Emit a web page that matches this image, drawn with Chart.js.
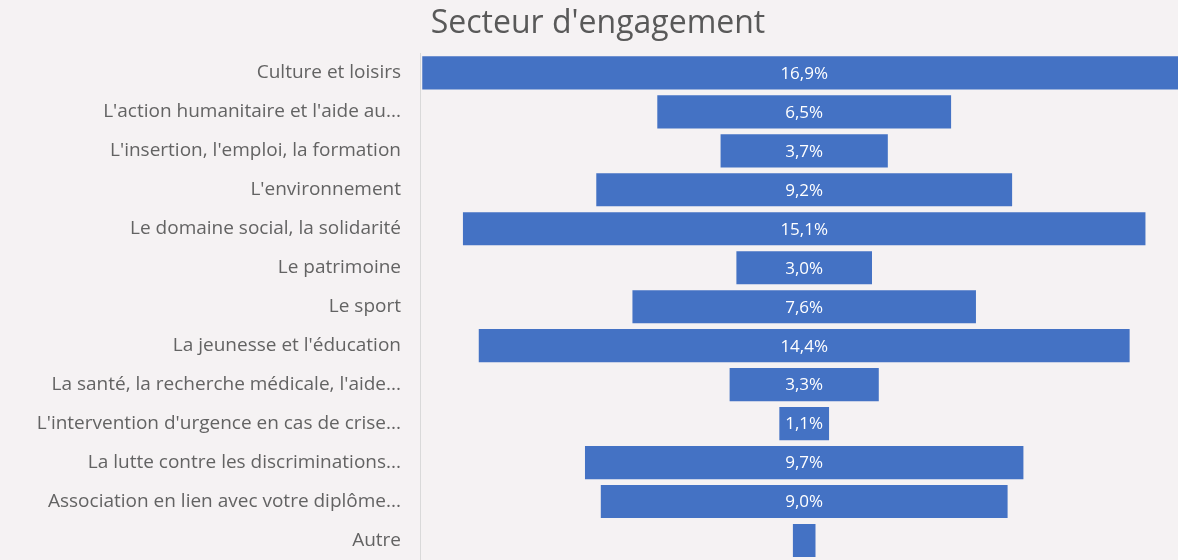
<!DOCTYPE html>
<html>
<head>
<meta charset="utf-8">
<script src="https://cdn.jsdelivr.net/npm/chart.js@4"></script>
<style>
  html, body { margin: 0; padding: 0; background: #f5f2f3; }
  #wrap { width: 1178px; height: 560px; }
</style>
</head>
<body>
<div id="wrap"><canvas id="c"></canvas></div>
<script>
const chartTitle = "Secteur d'engagement";
const categories = [
  "Culture et loisirs",
  "L'action humanitaire et l'aide au...",
  "L'insertion, l'emploi, la formation",
  "L'environnement",
  "Le domaine social, la solidarité",
  "Le patrimoine",
  "Le sport",
  "La jeunesse et l'éducation",
  "La santé, la recherche médicale, l'aide...",
  "L'intervention d'urgence en cas de crise...",
  "La lutte contre les discriminations...",
  "Association en lien avec votre diplôme...",
  "Autre"
];
const values = [16.9, 6.5, 3.7, 9.2, 15.1, 3.0, 7.6, 14.4, 3.3, 1.1, 9.7, 9.0, 0.5];

const fmt = v => v.toFixed(1).replace('.', ',') + '%';

const bgPlugin = {
  id: 'bg',
  beforeDraw(chart) {
    const ctx = chart.ctx;
    ctx.save();
    ctx.fillStyle = '#f5f2f3';
    ctx.fillRect(0, 0, chart.width, chart.height);
    ctx.restore();
  }
};

const labelPlugin = {
  id: 'barLabels',
  afterDatasetsDraw(chart) {
    const ctx = chart.ctx;
    const meta = chart.getDatasetMeta(0);
    ctx.save();
    ctx.fillStyle = '#ffffff';
    ctx.font = '17px "Open Sans", sans-serif';
    ctx.textAlign = 'center';
    ctx.textBaseline = 'middle';
    meta.data.forEach((bar, i) => {
      const v = values[i];
      if (v < 1) return;
      const cx = (bar.x + bar.base) / 2;
      ctx.fillText(fmt(v), cx, bar.y + 1);
    });
    ctx.restore();
  }
};

new Chart(document.getElementById('c'), {
  type: 'bar',
  data: {
    labels: categories,
    datasets: [{
      data: values.map(v => [-v / 2, v / 2]),
      backgroundColor: '#4472c4',
      borderWidth: 0,
      barPercentage: 0.85,
      categoryPercentage: 1.0
    }]
  },
  options: {
    indexAxis: 'y',
    responsive: true,
    maintainAspectRatio: false,
    animation: false,
    layout: { padding: { left: 18, right: 0, top: 0, bottom: 0 } },
    plugins: {
      legend: { display: false },
      tooltip: { enabled: false },
      title: {
        display: true,
        text: chartTitle,
        color: '#595959',
        font: { family: '"Open Sans", sans-serif', size: 32, weight: 'normal' },
        padding: { top: 5, bottom: 10 }
      }
    },
    scales: {
      x: {
        display: false,
        min: -8.5,
        max: 8.27
      },
      y: {
        afterFit(scale) {
          scale.width = 402;
          scale.paddingTop = 0;
          scale.paddingBottom = 0;
        },
        grid: { display: false },
        border: { display: true, color: '#d9d9d9', width: 1 },
        ticks: {
          color: '#636363',
          padding: 11,
          font: { family: '"Open Sans", sans-serif', size: 19 }
        }
      }
    }
  },
  plugins: [bgPlugin, labelPlugin]
});
</script>
</body>
</html>
